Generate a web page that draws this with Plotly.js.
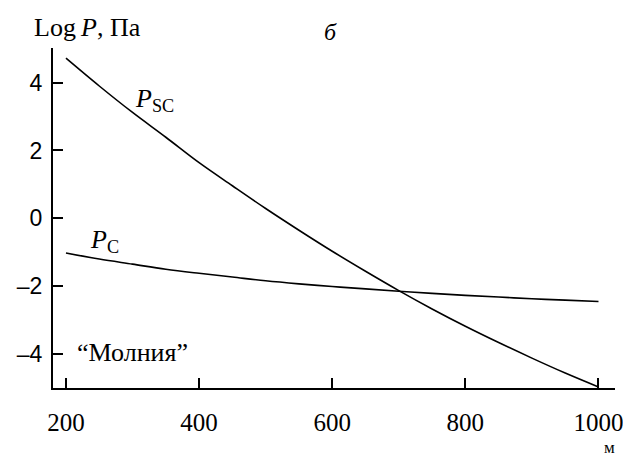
<!DOCTYPE html>
<html>
<head>
<meta charset="utf-8">
<script src="https://cdn.plot.ly/plotly-3.0.1.min.js"></script>
<style>html,body{margin:0;padding:0;background:#fff;}#chart{width:623px;height:457px;}</style>
</head>
<body>
<div id="chart"></div>
<script>
// Data
var distance = [200, 250, 300, 350, 400, 450, 500, 550, 600, 650, 700, 750, 800, 850, 900, 950, 1000];
var logPsc   = [4.72, 3.90, 3.12, 2.39, 1.64, 0.96, 0.29, -0.35, -0.97, -1.56, -2.13, -2.67, -3.18, -3.66, -4.12, -4.56, -4.97];
var logPc    = [-1.02, -1.20, -1.35, -1.50, -1.62, -1.73, -1.84, -1.93, -2.01, -2.08, -2.15, -2.21, -2.27, -2.32, -2.37, -2.41, -2.45];
var xTicks = [200, 400, 600, 800, 1000];
var yTicks = [4, 2, 0, -2, -4];

var serif = "Liberation Serif";
var sans = "Liberation Sans";

var M = {l: 53, r: 8, t: 48, b: 69};
var W = 623, H = 457;
function px(x) { return (x - M.l) / (W - M.l - M.r); }
function py(y) { return (H - M.b - y) / (H - M.t - M.b); }

var traces = [
  {x: distance, y: logPsc, mode: 'lines', line: {color: '#000', width: 1.6, shape: 'spline'}, hoverinfo: 'skip'},
  {x: distance, y: logPc,  mode: 'lines', line: {color: '#000', width: 1.6, shape: 'spline'}, hoverinfo: 'skip'}
];

var layout = {
  width: W, height: H,
  margin: M,
  paper_bgcolor: '#fff', plot_bgcolor: '#fff',
  showlegend: false,
  xaxis: {
    range: [180.5, 1024.8], tickvals: xTicks, ticktext: xTicks.map(String),
    ticks: 'inside', ticklen: 10, tickwidth: 2, tickcolor: '#000',
    showline: true, linewidth: 2, linecolor: '#000', showgrid: false, zeroline: false,
    tickfont: {family: serif, size: 25, color: '#000'}, ticklabelstandoff: 11,
    ticklabeloverflow: 'allow', automargin: false
  },
  yaxis: {
    range: [-5.0, 5.02], tickvals: yTicks, ticktext: yTicks.map(function(v){return v < 0 ? '\u2013' + Math.abs(v) : String(v);}),
    ticks: 'inside', ticklen: 10, tickwidth: 2, tickcolor: '#000',
    showline: true, linewidth: 2, linecolor: '#000', showgrid: false, zeroline: false,
    tickfont: {family: sans, size: 23, color: '#000'}, ticklabelstandoff: 4,
    ticklabeloverflow: 'allow', automargin: false
  },
  annotations: [
    {xref: 'paper', yref: 'paper', x: px(32), y: py(28), xanchor: 'left', yanchor: 'middle', showarrow: false,
     text: 'Log\u2009<i>P</i>, Па', font: {family: serif, size: 26, color: '#000'}},
    {xref: 'paper', yref: 'paper', x: px(330), y: py(32), xanchor: 'center', yanchor: 'middle', showarrow: false,
     text: '<i>б</i>', font: {family: serif, size: 24, color: '#000'}},
    {xref: 'paper', yref: 'paper', x: px(133), y: py(100), xanchor: 'left', yanchor: 'middle', showarrow: false,
     text: '<i>P</i><sub>SC</sub>', font: {family: serif, size: 26, color: '#000'}},
    {xref: 'paper', yref: 'paper', x: px(88), y: py(241), xanchor: 'left', yanchor: 'middle', showarrow: false,
     text: '<i>P</i><sub>C</sub>', font: {family: serif, size: 26, color: '#000'}},
    {xref: 'paper', yref: 'paper', x: px(75), y: py(352), xanchor: 'left', yanchor: 'middle', showarrow: false,
     text: '\u201cМолния\u201d', font: {family: serif, size: 26, color: '#000'}},
    {xref: 'paper', yref: 'paper', x: px(609), y: py(447), xanchor: 'center', yanchor: 'middle', showarrow: false,
     text: 'м', font: {family: serif, size: 17, color: '#000'}}
  ]
};

Plotly.newPlot('chart', traces, layout, {staticPlot: true, displayModeBar: false});
</script>
</body>
</html>
